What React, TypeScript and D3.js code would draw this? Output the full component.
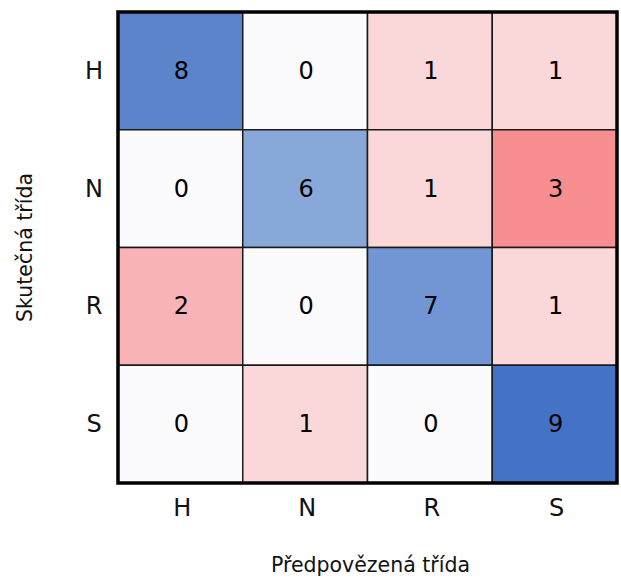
import React, { useRef, useEffect } from 'react';
import * as d3 from 'd3';

const predicted = ['H', 'N', 'R', 'S'];
const actual = ['H', 'N', 'R', 'S'];
// rows = actual class, columns = predicted class
const counts = [
  [8, 0, 1, 1],
  [0, 6, 1, 3],
  [2, 0, 7, 1],
  [0, 1, 0, 9],
];
const xTitle = 'Předpovězená třída';
const yTitle = 'Skutečná třída';

const W = 621;
const H = 586;
const FONT = '"DejaVu Sans", Verdana, sans-serif';

export default function App() {
  const svgRef = useRef<SVGSVGElement>(null);

  useEffect(() => {
    const svg = d3.select(svgRef.current);
    svg.selectAll('*').remove();

    const x = d3.scaleBand<string>().domain(predicted).range([118, 617]);
    const y = d3.scaleBand<string>().domain(actual).range([12, 483]);

    // diagonal cells in blue, misclassifications in red
    const blue = d3
      .scaleLinear<string>()
      .domain([0, 6, 9])
      .range(['#fbfbfe', '#88a8da', '#4472c4']);
    const red = d3
      .scaleLinear<string>()
      .domain([0, 3])
      .range(['#fbfbfe', '#f88e90']);

    const cells = counts.flatMap((row, i) =>
      row.map((v, j) => ({ r: actual[i], c: predicted[j], v, diag: i === j }))
    );

    const g = svg.append('g');
    g.selectAll('.cell')
      .data(cells)
      .join('rect')
      .attr('class', 'cell')
      .attr('x', (d) => x(d.c)!)
      .attr('y', (d) => y(d.r)!)
      .attr('width', x.bandwidth())
      .attr('height', y.bandwidth())
      .attr('fill', (d) => (d.diag ? blue(d.v) : red(d.v)))
      .attr('stroke', '#1a1a1a')
      .attr('stroke-width', 1.5);

    g.selectAll('.val')
      .data(cells)
      .join('text')
      .attr('class', 'val')
      .attr('x', (d) => x(d.c)! + x.bandwidth() / 2 + 1)
      .attr('y', (d) => y(d.r)! + y.bandwidth() / 2)
      .attr('text-anchor', 'middle')
      .attr('dominant-baseline', 'central')
      .attr('font-family', FONT)
      .attr('font-size', 24)
      .attr('fill', '#000')
      .text((d) => d.v);

    // outer frame
    const [x0, x1] = x.range();
    const [y0, y1] = y.range();
    g.append('rect')
      .attr('x', x0)
      .attr('y', y0)
      .attr('width', x1 - x0)
      .attr('height', y1 - y0)
      .attr('fill', 'none')
      .attr('stroke', '#000')
      .attr('stroke-width', 3.5);

    // tick labels
    svg
      .selectAll('.xtick')
      .data(predicted)
      .join('text')
      .attr('class', 'xtick')
      .attr('x', (d) => x(d)! + x.bandwidth() / 2 + 2)
      .attr('y', 508)
      .attr('text-anchor', 'middle')
      .attr('dominant-baseline', 'central')
      .attr('font-family', FONT)
      .attr('font-size', 24)
      .attr('fill', '#111')
      .text((d) => d);

    svg
      .selectAll('.ytick')
      .data(actual)
      .join('text')
      .attr('class', 'ytick')
      .attr('x', 94)
      .attr('y', (d) => y(d)! + y.bandwidth() / 2)
      .attr('text-anchor', 'middle')
      .attr('dominant-baseline', 'central')
      .attr('font-family', FONT)
      .attr('font-size', 24)
      .attr('fill', '#111')
      .text((d) => d);

    svg
      .append('text')
      .attr('x', (x0 + x1) / 2 + 3)
      .attr('y', 565)
      .attr('text-anchor', 'middle')
      .attr('dominant-baseline', 'central')
      .attr('font-family', FONT)
      .attr('font-size', 20.5)
      .attr('fill', '#111')
      .text(xTitle);

    svg
      .append('text')
      .attr('transform', `translate(25,${(y0 + y1) / 2}) rotate(-90)`)
      .attr('text-anchor', 'middle')
      .attr('dominant-baseline', 'central')
      .attr('font-family', FONT)
      .attr('font-size', 20.5)
      .attr('fill', '#111')
      .text(yTitle);
  }, []);

  return (
    <div style={{ position: 'absolute', left: 0, top: 0 }}>
      <svg ref={svgRef} width={W} height={H} style={{ display: 'block', background: '#fff' }} />
    </div>
  );
}
